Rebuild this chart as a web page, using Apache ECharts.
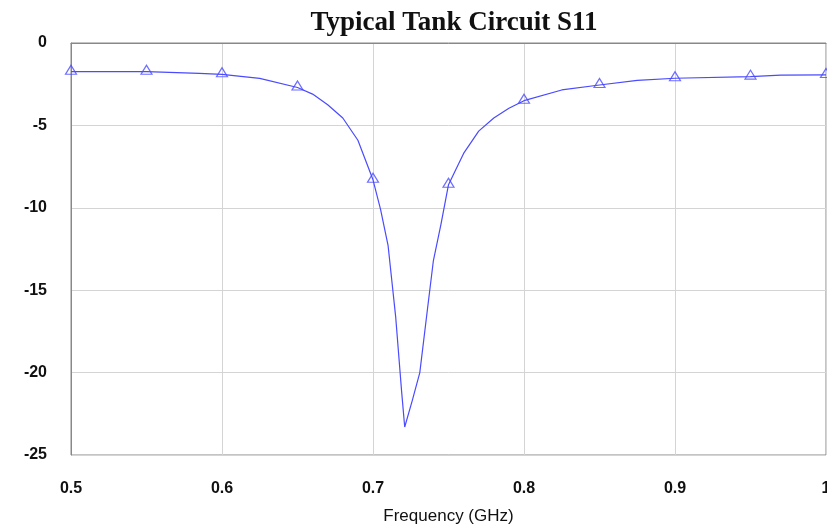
<!DOCTYPE html>
<html>
<head>
<meta charset="utf-8">
<script src="https://cdn.jsdelivr.net/npm/echarts@6/dist/echarts.min.js"></script>
<style>html,body{margin:0;padding:0;background:#fff}#c{width:827px;height:529px}</style>
</head>
<body>
<div id="c"></div>
<script>
// S11 trace (frequency GHz, dB)
const freq = [0.50,0.55,0.585,0.60,0.625,0.65,0.66,0.67,0.68,0.69,0.70,0.705,0.71,0.715,0.719,0.721,0.726,0.731,0.736,0.74,0.745,0.75,0.76,0.77,0.78,0.79,0.80,0.825,0.85,0.875,0.90,0.95,0.97,1.00];
const s11  = [-1.74,-1.74,-1.84,-1.90,-2.15,-2.7,-3.1,-3.75,-4.55,-5.9,-8.3,-10.1,-12.3,-16.6,-21.2,-23.3,-21.7,-20.0,-16.2,-13.2,-11.0,-8.6,-6.7,-5.35,-4.55,-3.96,-3.5,-2.85,-2.55,-2.27,-2.14,-2.04,-1.95,-1.94];
// triangle marker points
const markFreq = [0.50,0.55,0.60,0.65,0.70,0.75,0.80,0.85,0.90,0.95,1.00];
const markS11  = [-1.74,-1.74,-1.90,-2.7,-8.3,-8.6,-3.5,-2.55,-2.14,-2.04,-1.94];
const yTicks = [0,-5,-10,-15,-20,-25];

const lineData = freq.map((f,i)=>[f,s11[i]]);
const markData = markFreq.map((f,i)=>[f,markS11[i]]);
const blue = '#4a4aff';

const chart = echarts.init(document.getElementById('c'), null, {renderer:'canvas'});
chart.setOption({
  animation:false,
  backgroundColor:'#fff',
  title:{
    text:'Typical Tank Circuit S11',
    left:449, top:5, textAlign:'center',
    textStyle:{fontFamily:'Liberation Serif', fontWeight:'bold', fontSize:27, color:'#111'}
  },
  grid:{left:71, right:1, top:43, bottom:74, show:true, borderColor:'#888', borderWidth:1,
        outerBoundsMode:'none', containLabel:false},
  xAxis:{
    type:'value', min:0.5, max:1.0, interval:0.1,
    name:'Frequency (GHz)', nameLocation:'middle', nameGap:53,
    nameTextStyle:{fontFamily:'Liberation Sans', fontSize:17, color:'#111'},
    axisLine:{show:true, lineStyle:{color:'#888'}},
    axisTick:{show:false},
    axisLabel:{fontFamily:'Liberation Sans', fontWeight:'bold', fontSize:16, color:'#111', margin:26},
    splitLine:{show:true, lineStyle:{color:'#d4d4d4'}}
  },
  yAxis:{
    type:'value', min:-25, max:0, interval:5,
    axisLine:{show:true, lineStyle:{color:'#888'}},
    axisTick:{show:false},
    axisLabel:{fontFamily:'Liberation Sans', fontWeight:'bold', fontSize:16, color:'#111', margin:24,
      formatter:v=> yTicks.includes(v) ? String(v) : ''},
    splitLine:{show:true, lineStyle:{color:'#d4d4d4'}}
  },
  series:[
    {type:'line', data:lineData, symbol:'none', lineStyle:{color:blue, width:1.2}, z:3},
    {type:'scatter', data:markData, symbol:'triangle', symbolSize:[11,9], symbolOffset:[0,-2],
     itemStyle:{color:'rgba(0,0,0,0)', borderColor:blue, borderWidth:1.2}, z:4}
  ]
});
</script>
</body>
</html>
